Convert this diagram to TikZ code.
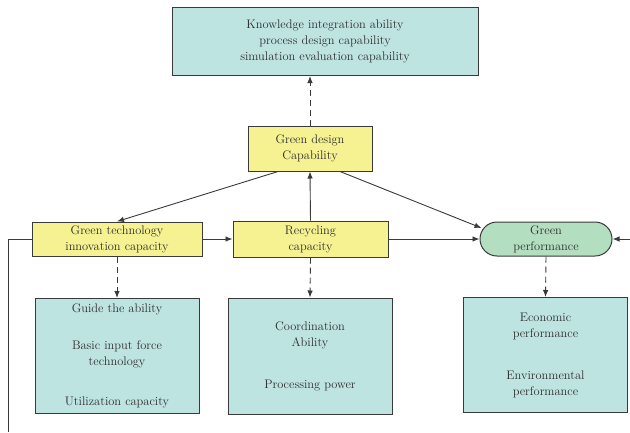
\documentclass[tikz,border=0pt]{standalone}
\usetikzlibrary{arrows.meta,shapes.misc,calc}
\definecolor{tealbox}{RGB}{190,228,226}
\definecolor{yelbox}{RGB}{246,242,146}
\definecolor{grnbox}{RGB}{180,222,192}
\definecolor{edge}{RGB}{58,58,58}
\definecolor{txt}{RGB}{45,45,45}
\begin{document}
\begin{tikzpicture}[x=1pt,y=-1pt,
  font=\fontsize{12.4}{16}\selectfont,
  base/.style={draw=edge,line width=1pt,inner sep=0pt,align=center,text=txt},
  infobox/.style={base,rectangle,fill=tealbox},
  capbox/.style={base,rectangle,fill=yelbox},
  perfbox/.style={base,rounded rectangle,fill=grnbox},
  arr/.style={draw=edge,line width=0.9pt,-{Latex[length=7pt,width=5.5pt]}},
  dasharr/.style={arr,dash pattern=on 6pt off 4pt}]
\useasboundingbox (0,0) rectangle (630,432);

\node[infobox,minimum width=306pt,minimum height=68pt] (top) at (325,41.5)
  {Knowledge integration ability\\process design capability\\simulation evaluation capability};
\node[capbox,minimum width=124pt,minimum height=45pt] (gd) at (310,148.5)
  {Green design\\Capability};
\node[capbox,minimum width=170pt,minimum height=34pt] (gti) at (117,239)
  {Green technology\\innovation capacity};
\node[capbox,minimum width=155pt,minimum height=36pt] (rec) at (310.5,239)
  {Recycling\\capacity};
\node[perfbox,minimum width=132pt,minimum height=34pt] (gp) at (546,239)
  {Green\\performance};

\node[infobox,minimum width=164pt,minimum height=115pt] (b1) at (117,356)
  {Guide the ability\\[21pt]Basic input force\\technology\\[24pt]Utilization capacity};
\node[infobox,minimum width=164pt,minimum height=116pt] (b2) at (310,356)
  {Coordination\\Ability\\[26pt]Processing power};
\node[infobox,minimum width=164pt,minimum height=115pt] (b3) at (545.5,355)
  {Economic\\performance\\[26pt]Environmental\\performance};

\coordinate (lb) at (8,432);
\coordinate (rin) at (630,239);

\draw[dasharr] (gd.north) -- (gd.north |- top.south);
\draw[arr] ([xshift=-32pt]gd.south) -- (gti.north);
\draw[arr] ([xshift=30pt]gd.south) -- ($(gp.west)+(2,-11)$);
\draw[arr] (rec.north) -- (gd.south);
\draw[arr] (gti.east) -- (rec.west);
\draw[arr] (rec.east) -- (gp.west);
\draw[arr] (rin) -- (gp.east);
\draw[draw=edge,line width=0.9pt] (gti.west) -| (lb);
\draw[dasharr] (gti.south) -- (b1.north);
\draw[dasharr] (rec.south) -- (b2.north);
\draw[dasharr] (gp.south) -- (b3.north);
\end{tikzpicture}
\end{document}
